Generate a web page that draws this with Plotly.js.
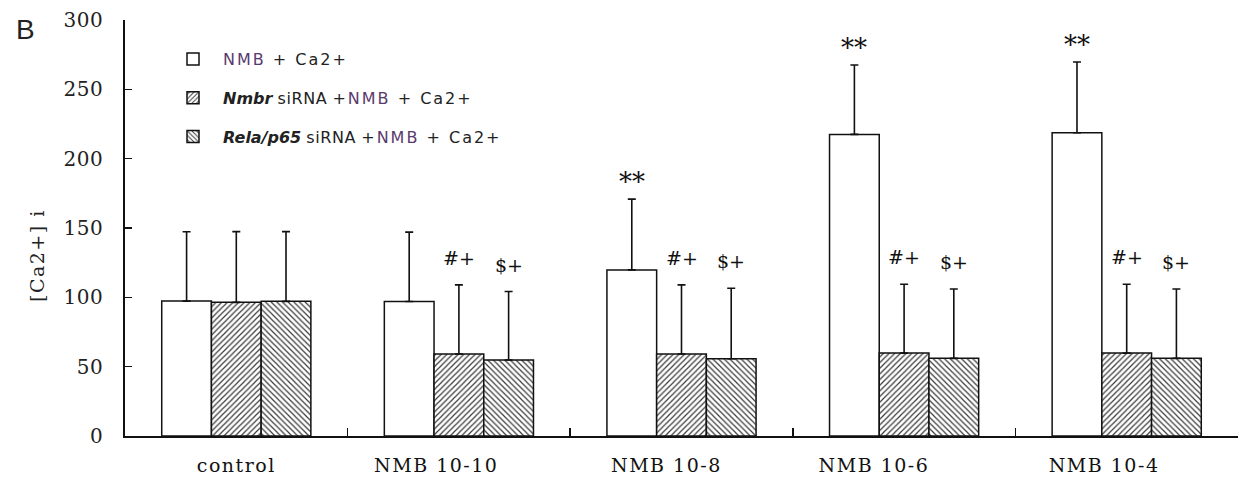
<!DOCTYPE html>
<html>
<head>
<meta charset="utf-8">
<script src="https://cdn.plot.ly/plotly-3.0.1.min.js"></script>
<style>
html,body{margin:0;padding:0;background:#fff;}
#chart{width:1243px;height:486px;}
#chart .xtick text{letter-spacing:1.5px;}
#chart .ytick text{letter-spacing:0.5px;}
</style>
</head>
<body>
<div id="chart"></div>
<script>
// ---- data ----
const categories = ["control", "NMB 10-10", "NMB 10-8", "NMB 10-6", "NMB 10-4"];
const seriesNames = [
  "<span style=\"letter-spacing:2px\"><span style=\"color:#5a3a6e\">NMB</span> + Ca2+</span>",
  "<b><i>Nmbr</i></b> <span style=\"letter-spacing:0.6px\">siRNA</span> <span style=\"letter-spacing:2px\">+<span style=\"color:#5a3a6e\">NMB</span> + Ca2+</span>",
  "<b><i>Rela/p65</i></b> <span style=\"letter-spacing:0.6px\">siRNA</span> <span style=\"letter-spacing:2px\">+<span style=\"color:#5a3a6e\">NMB</span> + Ca2+</span>"
];
const nmbValues   = [97.3, 97.0, 119.8, 217.5, 218.7];
const nmbErrors   = [50.0, 50.0, 51.0, 50.0, 51.0];
const nmbrValues  = [96.4, 59.1, 59.1, 59.8, 59.8];
const nmbrErrors  = [51.0, 49.9, 49.9, 49.6, 49.6];
const relaValues  = [97.1, 54.8, 55.7, 56.0, 56.0];
const relaErrors  = [50.3, 49.4, 50.9, 50.0, 50.0];
const nmbMarks    = ["", "", "**", "**", "**"];
const nmbrMarks   = ["", "#+", "#+", "#+", "#+"];
const relaMarks   = ["", "$+", "$+", "$+", "$+"];
const yTickVals   = [0, 50, 100, 150, 200, 250, 300];
const yTitle      = "[Ca2+] i";
const panelLabel  = "B";

// ---- style ----
const serif = "DejaVu Serif, serif";
const W = 1243, H = 486;
const margin = {l: 125, r: 5, t: 20, b: 50};
const plotW = W - margin.l - margin.r;
const plotH = H - margin.t - margin.b;
const bargap = 0.33;
const barPx = plotW / categories.length * (1 - bargap) / 3;
// labels in the original sit slightly left of their category centre: pad with trailing nbsp
const labelPad = [0, 6, 4, 8, 6];
const tickText = categories.map((c, i) => c + "\u00A0".repeat(labelPad[i]));

function errObj(arr) {
  return {type: "data", array: arr, arrayminus: arr.map(() => 0), symmetric: false,
          visible: true, color: "#111", thickness: 1.6, width: 4};
}
const lineStyle = {color: "#111", width: 1.5};
const hatch = (shape) => ({shape: shape, fgcolor: "#3a3a3a", bgcolor: "#ffffff", size: 4, solidity: 0.3});

const traces = [
  {type: "bar", name: seriesNames[0], x: categories, y: nmbValues, error_y: errObj(nmbErrors),
   marker: {color: "#ffffff", line: lineStyle}, legendgroup: "a", hoverinfo: "none"},
  {type: "bar", name: seriesNames[1], x: categories, y: nmbrValues, error_y: errObj(nmbrErrors),
   marker: {color: "#ffffff", line: lineStyle, pattern: hatch("/")}, legendgroup: "b", hoverinfo: "none"},
  {type: "bar", name: seriesNames[2], x: categories, y: relaValues, error_y: errObj(relaErrors),
   marker: {color: "#ffffff", line: lineStyle, pattern: hatch("\\")}, legendgroup: "c", hoverinfo: "none"}
];

const annotations = [];
const groups = [
  [nmbValues, nmbErrors, nmbMarks, -1, 17, 26],
  [nmbrValues, nmbrErrors, nmbrMarks, 0, 27, 19],
  [relaValues, relaErrors, relaMarks, 1, 27, 19]
];
groups.forEach(([vals, errs, marks, off, ys, fs]) => {
  categories.forEach((c, i) => {
    if (!marks[i]) return;
    annotations.push({x: c, y: vals[i] + errs[i], xref: "x", yref: "y", text: marks[i],
      showarrow: false, xshift: off * barPx, yshift: ys, yanchor: "middle",
      font: {family: serif, size: fs, color: "#111"}});
  });
});
annotations.push({xref: "paper", yref: "paper", x: (25 - margin.l) / plotW, y: 1 - (29 - margin.t) / plotH,
  xanchor: "center", yanchor: "middle", text: panelLabel, showarrow: false,
  font: {family: "Liberation Sans, Arial, sans-serif", size: 28, color: "#222"}});
annotations.push({xref: "paper", yref: "paper", x: (37 - margin.l) / plotW, y: 1 - (256 - margin.t) / plotH,
  xanchor: "center", yanchor: "middle", textangle: -90, text: "<span style=\"letter-spacing:1.5px\">" + yTitle + "</span>",
  showarrow: false, font: {family: serif, size: 19, color: "#222"}});

const layout = {
  width: W, height: H, margin: margin,
  paper_bgcolor: "#ffffff", plot_bgcolor: "#ffffff",
  barmode: "group", bargap: bargap, bargroupgap: 0,
  showlegend: true,
  legend: {x: (163 - margin.l) / plotW, y: 1 - (42 - margin.t) / plotH, xanchor: "left", yanchor: "top",
           bgcolor: "rgba(0,0,0,0)",
           font: {family: "DejaVu Sans, sans-serif", size: 16, color: "#222"},
           tracegroupgap: 15, traceorder: "grouped", itemwidth: 50},
  xaxis: {type: "category", tickson: "boundaries", ticks: "inside", ticklen: 8, tickwidth: 1.5,
          tickcolor: "#111", showline: true, linecolor: "#111", linewidth: 1.8, showgrid: false,
          zeroline: false, ticklabelstandoff: 11, tickvals: categories, ticktext: tickText,
          tickfont: {family: serif, size: 19, color: "#111"}},
  yaxis: {range: [0, 300], tickvals: yTickVals, ticks: "inside", ticklen: 7, tickwidth: 1.5,
          tickcolor: "#111", showline: true, linecolor: "#111", linewidth: 1.8, showgrid: false,
          zeroline: false, ticklabelstandoff: 16,
          tickfont: {family: serif, size: 20, color: "#222"}},
  annotations: annotations
};

Plotly.newPlot("chart", traces, layout, {displayModeBar: false, staticPlot: true});
</script>
</body>
</html>
